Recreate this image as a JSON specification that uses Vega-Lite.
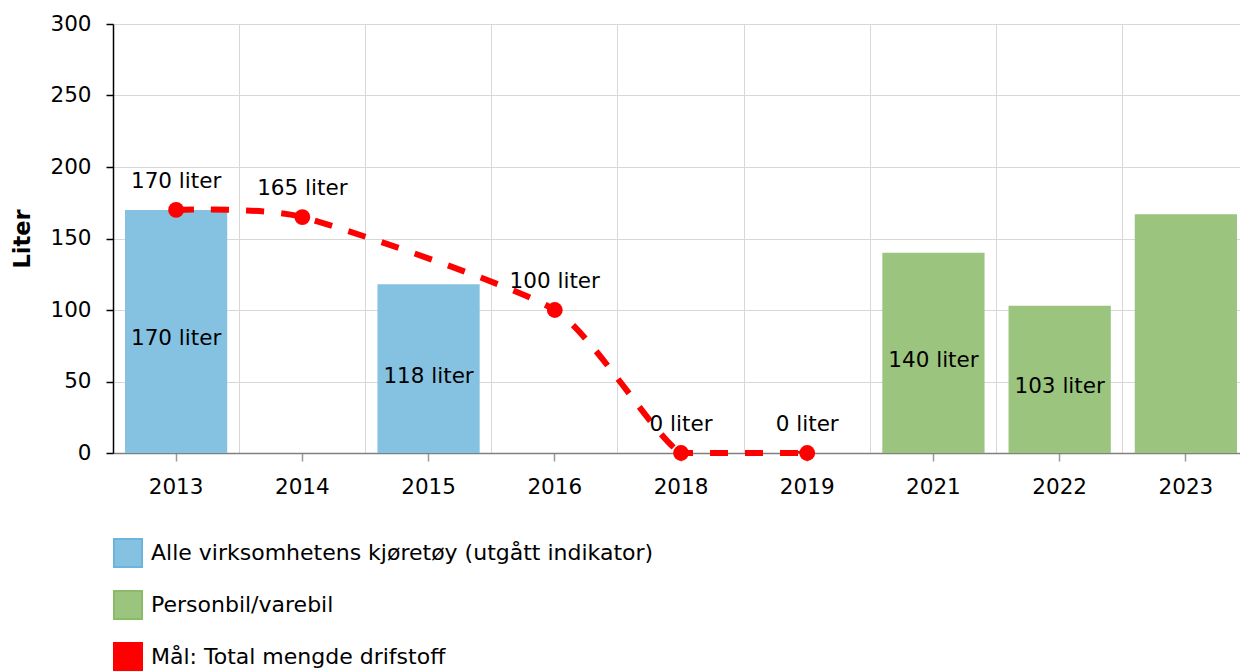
{
  "$schema": "https://vega.github.io/schema/vega-lite/v6.json",
  "width": 1136,
  "height": 429,
  "autosize": {"type": "none"},
  "padding": {"left": 113, "top": 24, "right": 0, "bottom": 218},
  "config": {
    "font": "DejaVu Sans",
    "view": {"stroke": null},
    "axis": {"labelColor": "#000000", "labelFont": "DejaVu Sans"}
  },
  "datasets": {
    "bars": [
      {"year": "2013", "value": 170, "series": "Alle virksomhetens kjøretøy (utgått indikator)", "label": "170 liter"},
      {"year": "2015", "value": 118, "series": "Alle virksomhetens kjøretøy (utgått indikator)", "label": "118 liter"},
      {"year": "2021", "value": 140, "series": "Personbil/varebil", "label": "140 liter"},
      {"year": "2022", "value": 103, "series": "Personbil/varebil", "label": "103 liter"},
      {"year": "2023", "value": 167, "series": "Personbil/varebil", "label": ""}
    ],
    "target": [
      {"year": "2013", "value": 170, "label": "170 liter"},
      {"year": "2014", "value": 165, "label": "165 liter"},
      {"year": "2016", "value": 100, "label": "100 liter"},
      {"year": "2018", "value": 0, "label": "0 liter"},
      {"year": "2019", "value": 0, "label": "0 liter"}
    ]
  },
  "resolve": {"axis": {"x": "independent"}},
  "layer": [
    {
      "data": {"name": "bars"},
      "mark": {"type": "bar"},
      "encoding": {
        "x": {
          "field": "year", "type": "nominal",
          "scale": {"domain": ["2013","2014","2015","2016","2018","2019","2021","2022","2023"], "paddingInner": 0.19, "paddingOuter": 0.095},
          "axis": {"orient": "bottom", "title": null, "grid": false, "labelAngle": 0, "labelFontSize": 21.5, "labelPadding": 15, "domainColor": "#808080", "domainWidth": 1.5, "tickColor": "#999999", "tickSize": 8, "tickWidth": 1.5}
        },
        "y": {
          "field": "value", "type": "quantitative",
          "scale": {"domain": [0, 300], "nice": false},
          "axis": {"title": "Liter", "titleFontSize": 22.5, "titleFontWeight": "bold", "titleColor": "#000000", "titleX": -91, "titleBaseline": "middle", "values": [0,50,100,150,200,250,300], "labelFontSize": 21.5, "labelPadding": 15, "domainColor": "#000000", "domainWidth": 1.5, "tickColor": "#000000", "tickSize": 7, "tickWidth": 1.5, "gridColor": "#d8d8d8", "gridWidth": 1}
        },
        "color": {
          "field": "series", "type": "nominal",
          "scale": {"domain": ["Alle virksomhetens kjøretøy (utgått indikator)", "Personbil/varebil", "Mål: Total mengde drifstoff"], "range": ["#85C2E2", "#9BC47E", "#FF0000"]},
          "legend": {
            "orient": "none", "legendX": 0, "legendY": 514, "direction": "vertical", "title": null,
            "symbolType": "square", "symbolSize": 784, "symbolOpacity": 1, "symbolStrokeWidth": 2,
            "labelFontSize": 22, "labelColor": "#000000", "labelOffset": 8, "rowPadding": 16, "labelLimit": 0,
            "encode": {"symbols": {"update": {"stroke": {"signal": "datum.index === 0 ? '#6DB4DD' : datum.index === 1 ? '#89BB69' : '#FF0000'"}}}}
          }
        }
      }
    },
    {
      "data": {"name": "bars"},
      "transform": [{"calculate": "datum.value / 2", "as": "mid"}],
      "mark": {"type": "text", "fontSize": 21.5, "color": "#000000", "baseline": "middle", "dy": 8},
      "encoding": {
        "x": {"field": "year", "type": "nominal", "axis": null},
        "y": {"field": "mid", "type": "quantitative"},
        "text": {"field": "label"}
      }
    },
    {
      "data": {"name": "target"},
      "mark": {"type": "line", "color": "#FF0000", "strokeWidth": 6, "strokeDash": [18, 17], "interpolate": "cardinal", "tension": 0.4, "clip": true},
      "encoding": {
        "x": {
          "field": "year", "type": "nominal",
          "axis": {"orient": "bottom", "title": null, "grid": true, "bandPosition": 1.118, "labels": false, "ticks": false, "domain": false, "gridColor": "#d8d8d8", "gridWidth": 1}
        },
        "y": {"field": "value", "type": "quantitative"}
      }
    },
    {
      "data": {"name": "target"},
      "transform": [{"filter": "datum.year === '2018' || datum.year === '2019'"}],
      "mark": {"type": "line", "color": "#FF0000", "strokeWidth": 6, "strokeDash": [18, 17], "strokeDashOffset": 6},
      "encoding": {
        "x": {"field": "year", "type": "nominal", "axis": null},
        "y": {"field": "value", "type": "quantitative"}
      }
    },
    {
      "data": {"name": "target"},
      "mark": {"type": "point", "filled": true, "color": "#FF0000", "size": 250, "opacity": 1},
      "encoding": {
        "x": {"field": "year", "type": "nominal", "axis": null},
        "y": {"field": "value", "type": "quantitative"}
      }
    },
    {
      "data": {"name": "target"},
      "mark": {"type": "text", "fontSize": 21.5, "color": "#000000", "baseline": "middle", "dy": -28},
      "encoding": {
        "x": {"field": "year", "type": "nominal", "axis": null},
        "y": {"field": "value", "type": "quantitative"},
        "text": {"field": "label"}
      }
    }
  ]
}
